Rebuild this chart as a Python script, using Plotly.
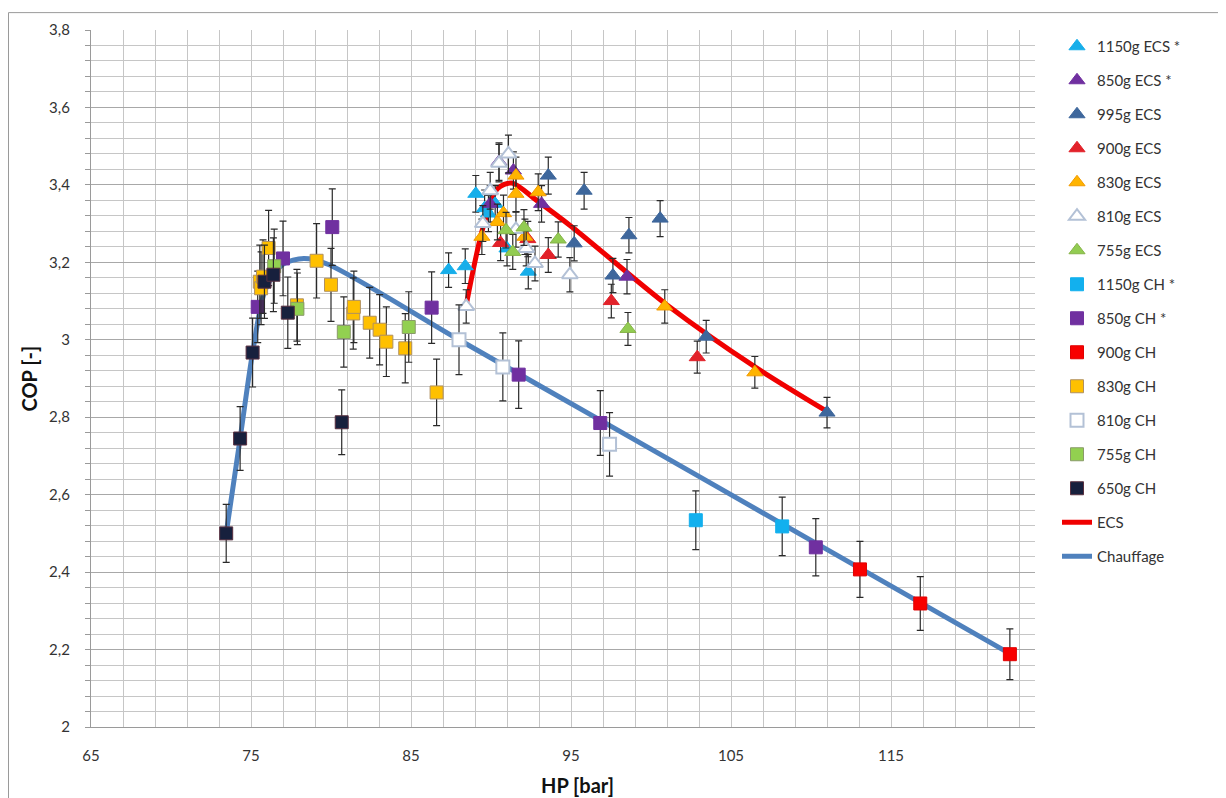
import plotly.graph_objects as go

# ---------------- data ----------------
# ECS (triangles)
ecs1150_x = [87.35, 88.39, 89.05, 89.6, 89.84, 90.26, 91.0, 92.33]
ecs1150_y = [3.180, 3.190, 3.377, 3.340, 3.326, 3.351, 3.236, 3.176]
ecs850_x = [89.95, 90.5, 91.4, 93.16, 98.5]
ecs850_y = [3.351, 3.460, 3.437, 3.351, 3.163]
ecs995_x = [93.58, 95.2, 95.82, 97.62, 98.62, 100.57, 103.45, 111.0]
ecs995_y = [3.424, 3.249, 3.385, 3.166, 3.270, 3.313, 3.008, 2.812]
ecs900_x = [90.6, 92.3, 93.58, 97.52, 102.89]
ecs900_y = [3.250, 3.260, 3.219, 3.100, 2.955]
ecs830_x = [89.43, 90.4, 90.78, 91.56, 91.56, 92.12, 92.95, 100.86, 106.49]
ecs830_y = [3.266, 3.304, 3.327, 3.424, 3.377, 3.266, 3.381, 3.086, 2.916]
ecs810_x = [88.45, 89.49, 89.95, 90.5, 91.09, 91.56, 92.2, 92.75, 94.93]
ecs810_y = [3.086, 3.300, 3.385, 3.456, 3.480, 3.285, 3.236, 3.197, 3.168]
ecs755_x = [90.94, 91.36, 92.06, 94.2, 98.56]
ecs755_y = [3.283, 3.227, 3.290, 3.259, 3.028]

# CH (squares)
ch1150_x = [102.8, 108.2]
ch1150_y = [2.534, 2.518]
ch850_x = [75.42, 77.0, 80.08, 86.29, 91.73, 96.83, 110.3]
ch850_y = [3.085, 3.210, 3.291, 3.083, 2.910, 2.785, 2.464]
ch900_x = [113.06, 116.83, 122.43]
ch900_y = [2.407, 2.319, 2.188]
ch830_x = [75.55, 75.63, 75.75, 76.1, 77.87, 79.1, 80.0, 81.39, 81.43, 82.42, 83.04, 83.46, 84.64, 86.6]
ch830_y = [3.150, 3.133, 3.163, 3.237, 3.089, 3.204, 3.142, 3.068, 3.085, 3.044, 3.026, 2.995, 2.978, 2.864]
ch810_x = [88.0, 90.74, 97.41]
ch810_y = [3.000, 2.930, 2.730]
ch755_x = [76.45, 77.9, 80.8, 84.86]
ch755_y = [3.190, 3.080, 3.020, 3.033]
ch650_x = [73.45, 74.32, 75.1, 75.84, 76.4, 77.3, 80.67]
ch650_y = [2.500, 2.745, 2.967, 3.150, 3.168, 3.070, 2.787]

# trend curves
ecs_line_x = [88.45, 89.5, 90.4, 91.3, 92.85, 95.1, 101.0, 106.5, 111.0]
ecs_line_y = [3.090, 3.290, 3.390, 3.405, 3.360, 3.290, 3.090, 2.930, 2.815]
chauf_line_x = [73.45, 74.32, 75.1, 75.9, 77.0, 78.3, 79.8, 88.0, 96.8, 110.3, 122.4]
chauf_line_y = [2.500, 2.745, 2.967, 3.130, 3.195, 3.210, 3.195, 3.000, 2.793, 2.475, 2.190]

ECS_ERR_PCT = 1.4
CH_ERR_PCT = 3.0

# ---------------- figure ----------------
OFF = 8  # page body margin
W, H = 1210, 790
L, R, T, B = 91 - OFF, 1035 - OFF, 25 - OFF, 727 - OFF
fig = go.Figure()

fig.add_trace(go.Scatter(x=ecs_line_x, y=ecs_line_y, mode="lines", name="ECS",
                         line=dict(color="#F00000", width=5, shape="spline", smoothing=0.8),
                         legendgroup="l1", legendrank=15))
fig.add_trace(go.Scatter(x=chauf_line_x, y=chauf_line_y, mode="lines", name="Chauffage",
                         line=dict(color="#4F81BD", width=5, shape="spline", smoothing=0.8),
                         legendgroup="l2", legendrank=16))

series = [
    ("1150g ECS *", ecs1150_x, ecs1150_y, "triangle-up", "#16AEEA", "#16AEEA", 1, ECS_ERR_PCT),
    ("850g ECS *", ecs850_x, ecs850_y, "triangle-up", "#7030A0", "#7030A0", 1, ECS_ERR_PCT),
    ("995g ECS", ecs995_x, ecs995_y, "triangle-up", "#3E679C", "#3E679C", 1, ECS_ERR_PCT),
    ("900g ECS", ecs900_x, ecs900_y, "triangle-up", "#E2222A", "#E2222A", 1, ECS_ERR_PCT),
    ("830g ECS", ecs830_x, ecs830_y, "triangle-up", "#FFB400", "#F29A00", 1, ECS_ERR_PCT),
    ("810g ECS", ecs810_x, ecs810_y, "triangle-up", "#FFFFFF", "#B3C1D6", 2, ECS_ERR_PCT),
    ("755g ECS", ecs755_x, ecs755_y, "triangle-up", "#92CC52", "#86B348", 1, ECS_ERR_PCT),
    ("1150g CH *", ch1150_x, ch1150_y, "square", "#12B0EE", "#12B0EE", 1, CH_ERR_PCT),
    ("850g CH *", ch850_x, ch850_y, "square", "#7030A0", "#7030A0", 1, CH_ERR_PCT),
    ("900g CH", ch900_x, ch900_y, "square", "#F80000", "#E00000", 1, CH_ERR_PCT),
    ("830g CH", ch830_x, ch830_y, "square", "#FFC000", "#B09060", 1, CH_ERR_PCT),
    ("810g CH", ch810_x, ch810_y, "square", "#FFFFFF", "#B3C1D6", 2, CH_ERR_PCT),
    ("755g CH", ch755_x, ch755_y, "square", "#92D050", "#8A9A6A", 1, CH_ERR_PCT),
    ("650g CH", ch650_x, ch650_y, "square", "#17203D", "#5A3040", 1, CH_ERR_PCT),
]

for i, (name, xs, ys, sym, fill, edge, lw, pct) in enumerate(series):
    size = 14 if sym == "triangle-up" else 13
    fig.add_trace(go.Scatter(
        x=xs, y=ys, mode="markers", name=name,
        marker=dict(symbol=sym, size=size, color=fill, line=dict(color=edge, width=lw)),
        error_y=dict(type="percent", value=pct, color="#2A2A2A", thickness=1.2, width=3.5),
        legendgroup="g%d" % i, legendrank=i + 1,
    ))

# page-pixel -> paper helpers
px = lambda v: (v - OFF - L) / (R - L)
py = lambda v: (B - (v - OFF)) / (B - T)

fig.add_annotation(text="<b>HP [bar]</b>", x=px(577), y=py(785),
                   xref="paper", yref="paper", showarrow=False, xanchor="center", yanchor="middle",
                   font=dict(size=20, color="#111111"))
fig.add_annotation(text="<b>COP [-]</b>", x=px(28), y=0.5, textangle=-90,
                   xref="paper", yref="paper", showarrow=False, xanchor="center", yanchor="middle",
                   font=dict(size=20, color="#111111"))

# chart-area border (left & top)
fig.add_shape(type="line", xref="paper", yref="paper", x0=px(8.5), x1=px(8.5), y0=py(7.5), y1=py(820),
              line=dict(color="#9A9A9A", width=1))
fig.add_shape(type="line", xref="paper", yref="paper", x0=px(8.5), x1=px(1240), y0=py(7.5), y1=py(7.5),
              line=dict(color="#9A9A9A", width=1))

fig.update_layout(
    width=W, height=H,
    margin=dict(l=L, r=W - R, t=T, b=H - B),
    paper_bgcolor="white", plot_bgcolor="white",
    separators=", ",
    font=dict(family="Lato, Open Sans, sans-serif", size=15, color="#333333"),
    showlegend=True,
    legend=dict(x=px(1057), y=1.0, xanchor="left", yanchor="top",
                font=dict(size=15, color="#333333"), tracegroupgap=11.5,
                bgcolor="rgba(0,0,0,0)", itemwidth=30),
)
fig.update_xaxes(range=[65, 124], tick0=65, dtick=10, showgrid=True, gridcolor="#C6C6C6", gridwidth=1.3,
                 minor=dict(tick0=65, dtick=2, showgrid=True, gridcolor="#C6C6C6", gridwidth=1.3),
                 showline=True, linecolor="#9A9A9A", linewidth=1.3, zeroline=False,
                 ticks="", ticklabelstandoff=15, tickfont=dict(size=15, color="#333333"))
fig.update_yaxes(range=[2, 3.8], tick0=2, dtick=0.2, showgrid=True, gridcolor="#A8A8A8", gridwidth=1.3,
                 minor=dict(tick0=2, dtick=0.04, showgrid=True, gridcolor="#C6C6C6", gridwidth=1.3,
                            ticks="outside", ticklen=5, tickcolor="#9A9A9A"),
                 ticks="outside", ticklen=5, tickcolor="#9A9A9A",
                 showline=True, linecolor="#9A9A9A", linewidth=1.3, zeroline=False,
                 ticklabelstandoff=12, tickfont=dict(size=15, color="#333333"))

fig.write_html("out.html")
